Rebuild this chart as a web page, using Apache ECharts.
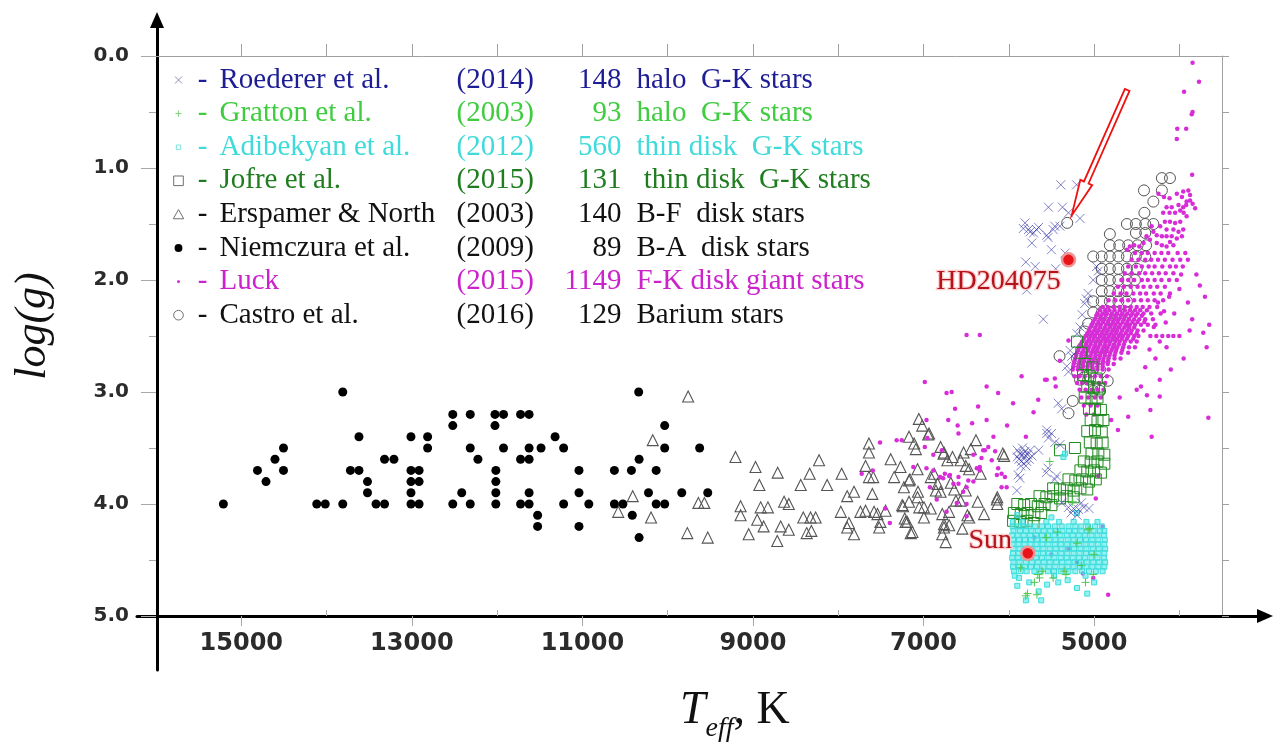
<!DOCTYPE html>
<html>
<head>
<meta charset="utf-8">
<title>Teff – log g diagram</title>
<script src="https://cdn.jsdelivr.net/npm/echarts@6/dist/echarts.min.js"></script>
<style>
  html, body { margin: 0; padding: 0; background: #fff; }
  #main { width: 1281px; height: 745px; }
</style>
</head>
<body>
<div id="main"></div>
<script>
// ---- Surveys listed in the legend ----
const surveys = ['Roederer et al.', 'Gratton et al.', 'Adibekyan et al.', 'Jofre et al.',
                 'Erspamer & North', 'Niemczura et al.', 'Luck', 'Castro et al.'];
const years   = [2014, 2003, 2012, 2015, 2003, 2009, 2015, 2016];
const counts  = [148, 93, 560, 131, 140, 89, 1149, 129];
const samples = ['halo  G-K stars', 'halo  G-K stars', 'thin disk  G-K stars', ' thin disk  G-K stars',
                 'B-F  disk stars', 'B-A  disk stars', 'F-K disk giant stars', 'Barium stars'];
const textColors = ['#1d1d96', '#3fcc3f', '#3fdada', '#1f7d1f', '#111111', '#111111', '#cc22cc', '#111111'];

// ---- Axis ticks ----
const xTickLabels = [15000, 13000, 11000, 9000, 7000, 5000];
const xMinorTicks = [14000, 12000, 10000, 8000, 6000, 4000];
const xTopTicks   = [15000, 14000, 13000, 12000, 11000, 10000, 9000, 8000, 7000, 6000, 5000, 4000];

// ---- Stars: [Teff (K), log g] ----
const niemczura = [
  [13810,3.0],[10340,3.0],
  [12520,3.2],[12315,3.2],[12025,3.2],[11925,3.2],[11725,3.2],[11625,3.2],
  [12520,3.3],[12025,3.3],[10035,3.3],
  [13620,3.4],[13010,3.4],[12815,3.4],[11320,3.4],
  [14505,3.5],[12815,3.5],[12315,3.5],[11925,3.5],[11625,3.5],[11485,3.5],[11220,3.5],[10035,3.5],[9625,3.5],
  [14605,3.6],[13320,3.6],[13210,3.6],[12225,3.6],[11725,3.6],[11625,3.6],[10335,3.6],
  [14810,3.7],[14505,3.7],[13720,3.7],[13620,3.7],[13010,3.7],[12915,3.7],[12015,3.7],[11040,3.7],[10625,3.7],[10425,3.7],[10135,3.7],
  [14710,3.8],[13520,3.8],[13010,3.8],[12915,3.8],[12015,3.8],
  [13520,3.9],[13010,3.9],[12415,3.9],[12015,3.9],[11625,3.9],[11040,3.9],[10225,3.9],[9835,3.9],[9530,3.9],
  [15210,4.0],[14115,4.0],[14015,4.0],[13810,4.0],[13420,4.0],[13320,4.0],[13010,4.0],[12915,4.0],[12520,4.0],[12315,4.0],
  [12015,4.0],[11725,4.0],[11625,4.0],[11220,4.0],[10925,4.0],[10625,4.0],[10525,4.0],[10135,4.0],[10035,4.0],
  [11525,4.1],[10415,4.1],[11525,4.2],[11040,4.2],[10335,4.3]
];

const erspamer = [
  [9760,3.04],[10175,3.43],[10410,3.93],[10580,4.07],[10195,4.12],[9640,3.99],[9570,3.99],[9770,4.26],[9530,4.30],
  [9205,3.58],[8970,3.67],[8710,3.72],[8925,3.83],[9145,4.02],[9145,4.10],[8910,4.03],[8825,4.03],[8950,4.14],[8875,4.20],
  [8675,4.20],[8580,4.23],[9050,4.27],[8715,4.33],
  [8635,3.98],[8580,4.00],[8440,3.83],[8335,3.73],[8225,3.61],[8130,3.83],[7960,3.73],[8410,4.12],[8325,4.12],[8265,4.12],
  [8370,4.26],[8315,4.24],[7970,4.07],[7895,3.93],[7815,3.89],[7875,4.17],[7895,4.21],[7815,4.27],[7740,4.07],[7680,4.06],
  [7640,3.46],[7640,3.54],[7680,3.66],[7640,3.76],[7590,3.76],[7600,3.91],[7580,4.07],[7540,4.09],[7520,4.21],
  [7055,3.24],[7015,3.30],[6935,3.37],[7170,3.40],[7110,3.46],[7090,3.51],[7385,3.60],[6800,3.49],[6765,3.55],[6445,3.51],
  [6385,3.43],[6565,3.61],[6505,3.66],[6465,3.69],[6055,3.57],[7270,3.67],[7345,3.76],[7070,3.69],[7170,3.79],[6915,3.76],
  [6835,3.82],[6680,3.81],[6505,3.88],[6330,3.73],[7250,4.01],[7170,3.98],[7070,3.94],[6995,4.03],[6915,4.04],[6780,4.09],
  [6700,4.07],[6620,3.97],[6485,4.10],[6365,3.98],[6290,4.09],[6135,3.94],[6135,4.00],[7190,4.16],[7130,4.25],[7210,4.16],
  [6760,4.18],[6780,4.27],[6740,4.34],[6545,4.22],[6465,4.12],[7505,4.16],[7445,4.06],
  [7230,3.85],[7150,4.26],[7220,4.13],[6945,3.38],[6875,3.73],[6760,3.54],[6720,3.61],[6660,3.58],[6640,3.87],[6565,3.97],
  [6530,3.54],[6760,4.21],[6700,4.19],[7065,3.89],[7050,4.03],[6995,4.12],[6855,3.88],[6800,3.89],[7160,3.78],[7240,4.02],
  [6070,3.55],[6140,3.96]
];

const castro = [
  [4205,1.09],[4110,1.09],[4205,1.20],[4415,1.20],[4305,1.30],[4410,1.40],
  [4615,1.50],[4510,1.50],[4400,1.50],[4305,1.50],[4510,1.58],[4400,1.58],[4815,1.59],
  [4815,1.69],[4705,1.69],[4600,1.69],[4490,1.69],[4390,1.69],[5315,1.49],
  [5010,1.79],[4910,1.79],[4815,1.79],[4715,1.79],[4615,1.79],[4510,1.79],[4400,1.79],
  [4910,1.90],[4815,1.90],[4715,1.90],[4615,1.90],[4500,1.90],
  [4910,2.00],[4815,2.00],[4715,2.00],[4615,2.00],[4520,2.00],
  [4910,2.10],[4815,2.10],[4715,2.10],[4615,2.10],
  [5010,2.19],[4910,2.19],[4815,2.19],[4715,2.19],[4615,2.19],
  [5010,2.29],[4910,2.29],[4815,2.29],[4715,2.29],[4615,2.29],
  [5070,2.39],[4970,2.39],[4880,2.39],[4770,2.39],[4670,2.39],
  [5110,2.46],[5010,2.50],[4910,2.50],[4810,2.50],
  [5130,2.60],[5030,2.60],[4930,2.60],[4830,2.60],
  [5200,2.70],[5110,2.72],[5010,2.70],[4910,2.70],[5405,2.68],
  [5200,2.82],[5120,2.87],[4930,2.80],[5165,2.89],[5070,2.89],[4840,2.90],
  [5010,2.99],[4930,2.99],[5300,3.19],[5250,3.08]
];

const roederer = [
  [5390,1.15],[5205,1.15],[5535,1.35],[5370,1.35],[5300,1.40],[5165,1.45],
  [5810,1.49],[5750,1.57],[5830,1.54],[5675,1.55],[5555,1.60],[5480,1.55],[5400,1.52],[5730,1.67],[5500,1.73],
  [5770,1.55],[5710,1.58],[5650,1.53],[5460,1.52],[5540,1.62],
  [5800,1.84],[5690,1.88],[5450,1.90],[5790,2.09],[5595,2.35],[5340,1.76],
  [4970,1.88],[4950,1.92],[5010,2.00],[5070,2.12],[5090,2.17],[5110,2.21],[5140,2.31],[5165,2.42],[5200,2.48],
  [5280,2.63],[5260,2.68],[5320,2.77],[5300,2.82],[5420,3.10],[5380,3.15],[5555,3.37],[5535,3.41],[5555,3.34],[5500,3.37],
  [5900,3.52],[5870,3.55],[5840,3.50],[5810,3.53],[5780,3.56],[5750,3.52],[5880,3.60],[5850,3.62],[5820,3.58],
  [5790,3.62],[5760,3.60],[5730,3.57],[5860,3.66],[5800,3.66],[5900,3.58],[5830,3.55],
  [5890,3.74],[5870,3.77],[5905,3.88],[5460,3.45],[5400,3.47],[5540,3.68],[5440,3.75],[5650,3.52],[5460,3.78],[5560,3.72],
  [5300,4.03],[5240,4.04],[5180,4.05],[5120,4.03],[5060,4.04],[5270,4.08],[5200,4.10],[5150,3.99],[5380,3.99]
];

const gratton = [
  [5050,4.22],[5860,4.57],[5610,4.60],[5640,4.66],[5660,4.63],[5330,4.63],[5350,4.60],[5780,4.80],[5800,4.82],
  [5480,4.66],[5070,4.23],[5010,4.63],[5670,4.81],[5250,3.98],[5430,4.25],[5560,4.30],[5200,4.35],[5000,4.45],
  [5700,4.70],[5100,4.70],[5520,3.62],[5150,4.55]
];

const jofre = [
  [5100,2.75],[5020,2.78],[5130,2.85],[5050,2.86],[4970,2.88],[5080,2.95],[5000,2.96],[4940,2.97],
  [5110,3.05],[5030,3.06],[4960,3.05],[5060,3.15],[4990,3.15],[4920,3.16],[5040,3.25],[4960,3.26],[4890,3.25],
  [5080,3.35],[4990,3.34],[4910,3.36],[5050,3.45],[4970,3.46],[4900,3.45],[5030,3.55],[4950,3.55],[4880,3.56],
  [5120,3.62],[5040,3.63],[4960,3.62],[4880,3.64],[5160,3.70],[5080,3.71],[5000,3.70],[4920,3.72],
  [5300,3.78],[5220,3.79],[5140,3.78],[5060,3.80],[4980,3.78],
  [5480,3.86],[5400,3.87],[5320,3.86],[5240,3.88],[5160,3.86],[5080,3.87],
  [5640,3.93],[5560,3.94],[5480,3.93],[5400,3.95],[5320,3.93],[5240,3.94],
  [5900,4.00],[5820,4.01],[5740,4.00],[5660,4.02],[5580,4.00],[5500,4.01],
  [5940,4.08],[5860,4.09],[5780,4.08],[5700,4.10],[5620,4.08],
  [5950,4.15],[5870,4.16],[5790,4.15],[5710,4.17],
  [5400,3.52],[5225,3.50],[5150,2.65],[5200,2.55]
];

// dense block of dwarfs, one row per log g
const adibekyanRows = [
  [4.16, [5950,5840,5560,5410,5240,5090,4960]],
  [4.20, [5955,5890,5830,5760,5690,5610,5540,5460,5380,5300,5220,5150,5070,4990,4910]],
  [4.24, [5945,5870,5800,5735,5660,5590,5515,5445,5370,5295,5225,5150,5080,5005,4930,4880]],
  [4.28, [5960,5895,5825,5750,5680,5610,5540,5465,5395,5320,5250,5180,5105,5030,4960,4885]],
  [4.32, [5950,5880,5810,5740,5670,5600,5525,5455,5385,5310,5240,5165,5095,5020,4950,4875]],
  [4.36, [5955,5885,5815,5745,5675,5605,5535,5460,5390,5315,5245,5175,5100,5030,4955,4880]],
  [4.40, [5945,5875,5805,5735,5665,5595,5520,5450,5380,5305,5235,5160,5090,5015,4945,4870]],
  [4.44, [5950,5885,5815,5745,5675,5600,5530,5460,5385,5315,5240,5170,5095,5025,4950,4880]],
  [4.48, [5960,5890,5820,5750,5680,5610,5535,5465,5390,5320,5250,5175,5105,5030,4960,4885]],
  [4.52, [5945,5875,5800,5730,5660,5590,5520,5445,5375,5300,5230,5155,5085,5010,4940,4870]],
  [4.56, [5950,5880,5810,5740,5670,5595,5525,5455,5380,5310,5240,5165,5090,5020,4950,4880]],
  [4.60, [5940,5860,5790,5700,5620,5540,5470,5390,5300,5220,5140,5060,4980,4900]]
];
const adibekyanExtra = [
  [5880,4.66],[5760,4.70],[5900,4.73],[5550,4.72],[5420,4.70],[5310,4.68],[5200,4.75],[5080,4.80],[5620,4.86],
  [5650,4.78],[5800,4.86],[5000,4.70],[5900,4.10],[5500,4.12],[5200,4.08],[5360,3.58],[5340,3.55],[5930,4.64],
  [5100,4.64],[5470,4.64]
];

const luckBranch = [
  [3845,0.06],[3770,0.23],[3945,0.32],[3845,0.50],[3855,0.52],[4025,0.65],[3920,0.65],[4030,0.74],[3850,1.06],
  [4245,1.23],[4180,1.26],[4115,1.27],[4030,1.23],[3955,1.21],[3895,1.20],[3875,1.24],[3915,1.30],[3845,1.32],
  [3955,1.35],[4010,1.33],[4090,1.35],[4150,1.35],[4190,1.40],[4115,1.40],[4050,1.40],[3990,1.38],[3950,1.40],
  [3915,1.43],[3990,1.48],[4050,1.49],[4110,1.48],[4170,1.48],[4225,1.52],[4150,1.55],[4070,1.55],[4010,1.57],
  [3955,1.55],[3970,1.61],[4030,1.63],[4090,1.61],[4150,1.61],[4205,1.61],[4265,1.60],[4305,1.57],[4345,1.64],
  [4265,1.67],[4205,1.69],[4150,1.70],[4070,1.69],[4110,1.66],[4325,1.52],[4385,1.61],[4420,1.67],[4470,1.70],
  [4530,1.69],[4580,1.70],[4615,1.73],[3970,1.26],[3875,1.29],[3815,1.36],[3920,1.33]
];
// giant clump, one row per log g
const luckRows = [
  [1.76, [4520,4440,4370,4290,4210,4130,4020,3930]],
  [1.82, [4560,4480,4400,4330,4250,4170,4080,3990,3900]],
  [1.88, [4600,4510,4440,4360,4290,4200,4110,4040,3960]],
  [1.94, [4640,4560,4470,4400,4320,4240,4160,4070]],
  [2.00, [4680,4600,4530,4440,4370,4290,4210,4120,4030]],
  [2.06, [4720,4650,4570,4490,4420,4340,4260,4170]],
  [2.12, [4770,4690,4620,4540,4460,4390,4300,4220,4110]],
  [2.18, [4830,4750,4680,4600,4530,4450,4370,4290,4190]],
  [2.24, [4900,4840,4770,4700,4640,4570,4500,4430,4350,4260]],
  [2.27, [4930,4870,4820,4760,4700,4640,4580,4520,4460,4380]],
  [2.30, [4960,4900,4850,4790,4730,4670,4610,4550,4490,4420,4330,4220]],
  [2.32, [4975,4920,4865,4805,4745,4690,4630,4570,4510,4440]],
  [2.35, [4990,4930,4880,4820,4760,4710,4650,4590,4530,4470,4400,4310]],
  [2.375,[5010,4950,4895,4840,4780,4725,4665,4610,4550,4490,4410]],
  [2.40, [5030,4970,4920,4860,4800,4750,4690,4630,4580,4520,4450,4370,4280]],
  [2.425,[5045,4985,4930,4875,4815,4760,4705,4645,4590,4530]],
  [2.45, [5060,5000,4950,4890,4840,4780,4730,4670,4610,4560,4490,4420]],
  [2.475,[5080,5020,4965,4910,4855,4800,4745,4690,4630,4570,4500]],
  [2.50, [5100,5040,4990,4930,4880,4820,4770,4710,4660,4600,4530,4480]],
  [2.525,[5120,5060,5005,4950,4895,4840,4785,4730,4675,4615,4540]],
  [2.55, [5140,5080,5030,4970,4920,4860,4810,4750,4700,4640,4570,4500]],
  [2.575,[5155,5095,5040,4985,4930,4875,4820,4765,4710,4650]],
  [2.60, [5170,5110,5060,5000,4950,4890,4840,4780,4730,4660,4590,4520]],
  [2.625,[5185,5125,5070,5015,4960,4905,4850,4795,4740,4670]],
  [2.65, [5200,5140,5090,5030,4980,4920,4870,4810,4750,4680,4600]],
  [2.675,[5210,5150,5095,5040,4985,4930,4875,4820,4760]],
  [2.70, [5220,5160,5110,5050,5000,4940,4890,4830,4760,4690]],
  [2.725,[5230,5170,5115,5060,5005,4950,4895,4835]],
  [2.75, [5240,5180,5130,5070,5020,4960,4900,4840,4770]],
  [2.775,[5245,5185,5130,5075,5020,4960,4900]],
  [2.80, [5250,5190,5140,5080,5020,4960,4900,4830]],
  [2.86, [5230,5170,5110,5050,4990,4920,4850]],
  [2.92, [5200,5140,5080,5010,4940,4870]],
  [2.98, [5170,5100,5030,4960,4890]],
  [3.05, [5150,5070,4990,4920]],
  [3.12, [5120,5040,4960]],
  [3.20, [5090,5000]]
];
const luckScatter = [
  [4000,2.50],[4070,2.50],[4130,2.50],[4200,2.50],[4270,2.50],[4340,2.50],[6495,2.49],[6340,2.49],
  [3900,2.20],[3850,2.35],[3950,2.70],[4100,2.80],[4230,2.89],[4380,3.03],[4230,3.04],[4340,3.16],[4600,3.22],
  [4720,3.34],[4325,3.40],[4500,2.98],[4150,2.60],[3800,1.95],[3760,2.05],[3880,2.45],[4450,2.95],[4700,3.05],
  [4800,3.25],[4250,2.20],[4180,2.28],[4300,2.42],[4230,2.55],[4160,2.38],[4350,2.62],[4280,2.70],[4400,2.78],
  [4120,2.15],[4060,2.30],[4000,2.08],[3980,1.95],[3700,2.15],[3650,2.40],[3720,2.47],[3680,2.60],[3660,3.23],
  [5850,2.86],[5575,2.89],[5655,3.07],[5710,3.18],[5300,2.54],[5400,2.72],[5450,2.95],[5460,2.88],
  [5130,4.62],[5010,4.66],[4835,4.81],[5300,4.40],[5500,4.45],[5700,4.30],[5200,4.52],[4900,4.20],[4950,3.75],[4980,3.95],
  [6985,2.91],[6730,3.01],[6670,3.00],[6630,3.15],[6965,3.25],[6710,3.25],[6360,3.13],[6260,2.95],[6125,3.01],
  [5555,2.89],[6260,3.25],[6590,3.37],[7315,3.43],[7255,3.43],[6985,3.49],[6885,3.56],[6785,3.52],[6415,3.56],
  [6320,3.59],[6300,3.52],[6240,3.49],[6160,3.53],[6340,3.67],[6375,3.68],[6125,3.68],[6085,3.73],[6045,3.76],
  [6025,3.85],[6475,3.79],[6590,3.82],[6750,3.73],[6690,3.74],[6805,3.76],[7510,3.45],[7725,3.73],[7595,3.70],
  [7395,4.17],[7450,4.04],[7120,3.67],[6965,3.68],[6885,3.70],[6770,3.77],[6700,3.75],[6650,3.82],[6590,3.76],
  [6535,3.89],[6495,3.85],[6415,3.80],[6340,3.70],[6200,3.61],[6140,3.74],[6085,3.85],[6280,3.52],[6495,4.00],
  [6925,3.85],[6845,3.96],[6610,3.99],[6730,4.07],[6495,4.11],[6955,3.41],[6600,3.30],[6430,3.28],[6180,3.40],
  [6020,3.30],[5950,3.10],[5800,3.40]
];

// highlighted objects
const highlighted = [
  { name: 'Sun',      value: [5777, 4.44] },
  { name: 'HD204075', value: [5300, 1.82] }
];
const arrowTarget = [5315, 1.49];   // the Castro et al. entry the arrow points at

// ---- helpers ----
function rowsToPoints(rows) {
  const out = [];
  rows.forEach(([g, ts]) => ts.forEach(t => out.push([t, g])));
  return out;
}
const adibekyan = rowsToPoints(adibekyanRows).concat(adibekyanExtra);
const luck = luckBranch.concat(rowsToPoints(luckRows), luckScatter);

const outline = (c, w) => ({ color: 'rgba(0,0,0,0)', borderColor: c, borderWidth: w || 1, opacity: 1 });
const SERIF = '"Liberation Serif", "Times New Roman", serif';
const SANS = '"DejaVu Sans", sans-serif';

// legend icons, drawn inside a 16x16 box so that each keeps its own size
const legendIcons = [
  'path://M0,0M16,16M4,4L12,12M12,4L4,12',
  'path://M0,0M16,16M8,4.5L8,11.5M4.5,8L11.5,8',
  'path://M0,0M16,16M5.5,5.5L10.5,5.5L10.5,10.5L5.5,10.5Z',
  'path://M0,0M16,16M2.5,2.5L13.5,2.5L13.5,13.5L2.5,13.5Z',
  'path://M0,0M16,16M8,2.5L14,13L2,13Z',
  'path://M0,0M16,16M8,3.5A4.5,4.5,0,1,1,7.99,3.5Z',
  'path://M0,0M16,16M8,6.2A1.8,1.8,0,1,1,7.99,6.2Z',
  'path://M0,0M16,16M8,2.5A5.5,5.5,0,1,1,7.99,2.5Z'
];
const legendIconStyles = [
  outline('#8a8ab4'), outline('#7fd07f'), outline('#7fe0e0'), outline('#707070'),
  outline('#707070'), { color: '#000' }, { color: '#d040d0' }, outline('#707070')
];

// legend columns: dash, survey, year, star count (right aligned), sample
const legendRich = { };
surveys.forEach((s, i) => {
  const base = { fontFamily: SERIF, fontSize: 29, lineHeight: 30, color: textColors[i] };
  legendRich['d' + i] = Object.assign({ width: 29, align: 'left' }, base);
  legendRich['n' + i] = Object.assign({ width: 237, align: 'left' }, base);
  legendRich['y' + i] = Object.assign({ width: 95, align: 'left' }, base);
  legendRich['c' + i] = Object.assign({ width: 70, align: 'right' }, base);
  legendRich['g' + i] = Object.assign({ width: 15, align: 'right' }, base);
  legendRich['t' + i] = Object.assign({ align: 'right' }, base);
});

const chart = echarts.init(document.getElementById('main'));

const plainAxis = { axisLabel: { show: false }, splitLine: { show: false } };
const tempScale = { type: 'value', min: 3500, max: 16000, inverse: true, gridIndex: 0 };
const gScale = { type: 'value', min: 0, max: 5, inverse: true, gridIndex: 0 };

chart.setOption({
  animation: false,
  backgroundColor: '#ffffff',
  grid: [
    { left: 156, right: 59, top: 56, bottom: 129, containLabel: false, outerBoundsMode: 'none' },
    { left: 137, right: 16, top: 20, bottom: 75, containLabel: false, outerBoundsMode: 'none' }
  ],
  xAxis: [
    Object.assign({}, tempScale, {
      position: 'bottom',
      axisLine: { show: false, onZero: false },
      axisTick: { show: true, customValues: xTickLabels, length: 10, lineStyle: { color: '#a8a8a8' } },
      axisLabel: { show: true, customValues: xTickLabels, formatter: v => String(v), margin: 16,
                   fontFamily: SANS, fontWeight: 'bold', fontSize: 24, color: '#2b2b2b' },
      splitLine: { show: false }
    }),
    Object.assign({}, tempScale, plainAxis, {
      position: 'bottom',
      axisLine: { show: false, onZero: false },
      axisTick: { show: true, inside: true, customValues: xMinorTicks, length: 6, lineStyle: { color: '#b0b0b0' } }
    }),
    Object.assign({}, tempScale, plainAxis, {
      position: 'top',
      axisLine: { show: true, onZero: false, lineStyle: { color: '#a0a0a0', width: 1 } },
      axisTick: { show: true, customValues: xTopTicks, length: 12, lineStyle: { color: '#a0a0a0' } }
    }),
    Object.assign({ gridIndex: 1, type: 'value', min: -20, max: 1108 }, plainAxis, {
      axisLine: { show: true, onZero: true, symbol: ['none', 'triangle'], symbolSize: [14, 16],
                  lineStyle: { color: '#000', width: 3 } },
      axisTick: { show: false }
    })
  ],
  yAxis: [
    Object.assign({}, gScale, {
      position: 'left', interval: 1,
      axisLine: { show: false, onZero: false },
      axisTick: { show: true, length: 15, lineStyle: { color: '#a8a8a8' } },
      minorTick: { show: true, splitNumber: 2, length: 7, lineStyle: { color: '#a8a8a8' } },
      axisLabel: { show: true, formatter: v => v.toFixed(1), margin: 27,
                   fontFamily: SANS, fontWeight: 'bold', fontSize: 20, color: '#2b2b2b' },
      splitLine: { show: false }
    }),
    Object.assign({}, gScale, plainAxis, {
      position: 'right', interval: 0.5,
      axisLine: { show: true, onZero: false, lineStyle: { color: '#a0a0a0', width: 1 } },
      axisTick: { show: true, length: 7, lineStyle: { color: '#a0a0a0' } }
    }),
    Object.assign({ gridIndex: 1, type: 'value', min: -54, max: 596 }, plainAxis, {
      axisLine: { show: true, onZero: true, symbol: ['none', 'triangle'], symbolSize: [14, 16],
                  lineStyle: { color: '#000', width: 3 } },
      axisTick: { show: false }
    })
  ],
  legend: {
    orient: 'vertical', left: 171, top: 65, padding: 0, itemGap: 3.6,
    itemWidth: 14, itemHeight: 14, selectedMode: false,
    textStyle: { fontFamily: SERIF, fontSize: 29, lineHeight: 30, rich: legendRich },
    formatter: name => {
      const i = surveys.indexOf(name);
      return '{d' + i + '| -}{n' + i + '|' + name + '}{y' + i + '|(' + years[i] + ')}{c' + i + '|' +
             counts[i] + '}{g' + i + '| }{t' + i + '|' + samples[i] + '}';
    },
    data: surveys.map((s, i) => ({ name: s, icon: legendIcons[i], itemStyle: legendIconStyles[i] }))
  },
  series: [
    { name: 'Erspamer & North', type: 'scatter', data: erspamer, symbol: 'triangle', symbolSize: 11,
      itemStyle: outline('#555555', 1.1), z: 2 },
    { name: 'Niemczura et al.', type: 'scatter', data: niemczura, symbol: 'circle', symbolSize: 9,
      itemStyle: { color: '#000', opacity: 1 }, z: 2 },
    { name: 'Castro et al.', type: 'scatter', data: castro, symbol: 'circle', symbolSize: 11,
      itemStyle: outline('#555555', 1), z: 3 },
    { name: 'Luck', type: 'scatter', data: luck, symbol: 'circle', symbolSize: 4.5,
      itemStyle: { color: '#d82cd8', opacity: 1 }, z: 4 },
    { name: 'Jofre et al.', type: 'scatter', data: jofre, symbol: 'rect', symbolSize: 11,
      itemStyle: outline('#1f8a1f', 1), z: 5 },
    { name: 'Adibekyan et al.', type: 'scatter', data: adibekyan, symbol: 'rect', symbolSize: 5,
      itemStyle: { color: 'rgba(80,232,232,0.6)', borderColor: '#3cdcdc', borderWidth: 1, opacity: 1 }, z: 6 },
    { name: 'Roederer et al.', type: 'scatter', data: roederer, symbol: 'path://M0,0L10,10M10,0L0,10', symbolSize: 9,
      itemStyle: { color: 'none', borderColor: 'rgba(45,45,165,0.6)', borderWidth: 1, opacity: 1 }, z: 7 },
    { name: 'Gratton et al.', type: 'scatter', data: gratton, symbol: 'path://M5,0L5,10M0,5L10,5', symbolSize: 8,
      itemStyle: { color: 'none', borderColor: '#4cc84c', borderWidth: 1, opacity: 1 }, z: 8 },
    { name: 'highlighted', type: 'scatter', symbol: 'circle', symbolSize: 13, z: 10,
      itemStyle: { color: '#e8141a', borderColor: 'rgba(236,150,150,1)', borderWidth: 2.5, opacity: 1 },
      label: { show: true, position: 'left', formatter: '{b}', fontFamily: SERIF, fontSize: 28,
               color: '#b3141c', textBorderColor: 'rgba(255,205,205,0.95)', textBorderWidth: 2.5 },
      data: [
        Object.assign({}, highlighted[0], { label: { distance: 8, offset: [0, -13] } }),
        Object.assign({}, highlighted[1], { label: { distance: 0, offset: [0, 22] } })
      ] }
  ],
  graphic: [
    { type: 'text', id: 'ytitle', x: 33, y: 326, rotation: Math.PI / 2,
      style: { text: 'log(g)', fontFamily: SERIF, fontStyle: 'italic', fontSize: 44, fill: '#111',
               align: 'center', verticalAlign: 'middle' } },
    { type: 'text', id: 'xtitle', x: 680, y: 688,
      style: {
        text: '{t|T}{s|eff}{k|, K}', fill: '#111', align: 'left', verticalAlign: 'top',
        rich: {
          t: { fontFamily: SERIF, fontStyle: 'italic', fontSize: 46, lineHeight: 46, verticalAlign: 'top' },
          s: { fontFamily: SERIF, fontStyle: 'italic', fontSize: 28, lineHeight: 28, padding: [27, 0, 0, 0], verticalAlign: 'top' },
          k: { fontFamily: SERIF, fontSize: 46, lineHeight: 46, verticalAlign: 'top' }
        }
      } }
  ]
});

// hollow red arrow pointing at the marked star
function arrowPoints(tail, tip, shaftHalf, headLen, headHalf) {
  const dx = tip[0] - tail[0], dy = tip[1] - tail[1];
  const L = Math.hypot(dx, dy);
  const ux = dx / L, uy = dy / L, nx = -uy, ny = ux;
  const bx = tip[0] - ux * headLen, by = tip[1] - uy * headLen;
  return [
    [tail[0] + nx * shaftHalf, tail[1] + ny * shaftHalf],
    [bx + nx * shaftHalf, by + ny * shaftHalf],
    [bx + nx * headHalf, by + ny * headHalf],
    tip,
    [bx - nx * headHalf, by - ny * headHalf],
    [bx - nx * shaftHalf, by - ny * shaftHalf],
    [tail[0] - nx * shaftHalf, tail[1] - ny * shaftHalf]
  ];
}
const p = chart.convertToPixel({ xAxisIndex: 0, yAxisIndex: 0 }, arrowTarget);
const tip = [p[0] + 4.5, p[1] - 7.5];
const tail = [p[0] + 60, p[1] - 133];
chart.setOption({
  graphic: [{ type: 'polygon', id: 'arrow', z: 100,
              shape: { points: arrowPoints(tail, tip, 2.5, 36, 6.5) },
              style: { fill: '#ffffff', stroke: '#ee1111', lineWidth: 1.8 } }]
});
</script>
</body>
</html>
